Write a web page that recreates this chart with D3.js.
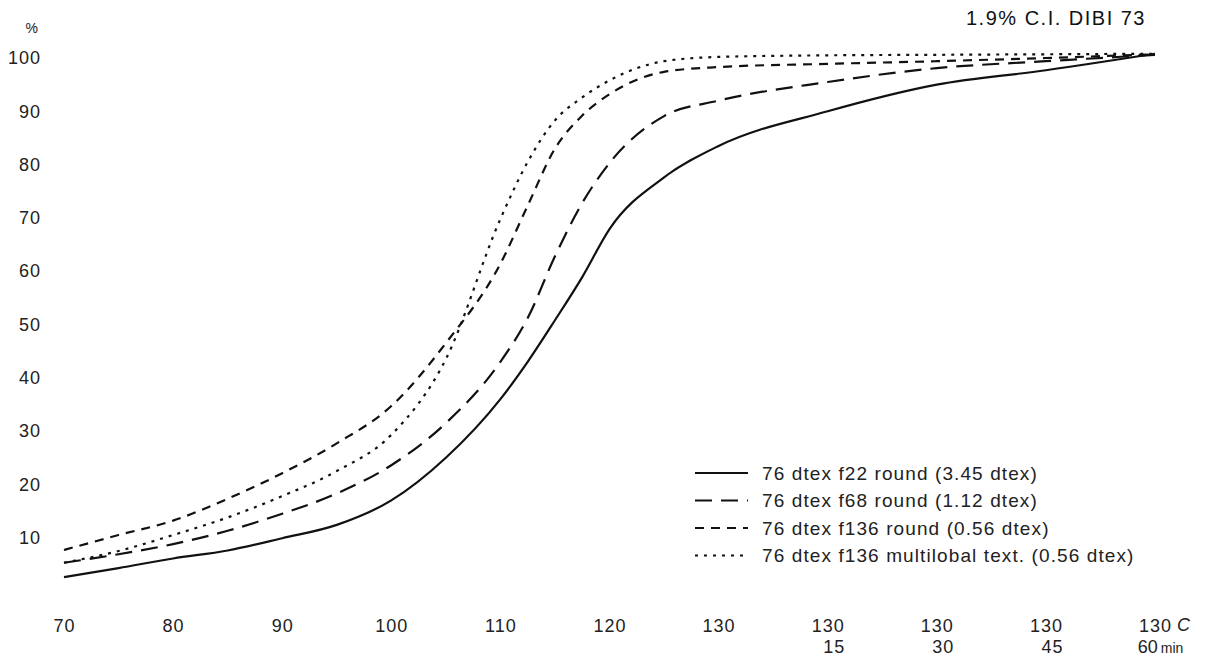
<!DOCTYPE html>
<html>
<head>
<meta charset="utf-8">
<script src="https://cdn.jsdelivr.net/npm/d3@7"></script>
<style>
  body { margin: 0; background: #fff; }
  svg { display: block; font-family: "Liberation Sans", Arial, sans-serif; }
</style>
</head>
<body>
<div id="chart"></div>
<script>
const WIDTH = 1208;
const HEIGHT = 659;

// x = dyeing step: 70..130 C, then 15/30/45/60 min hold at 130 C
const steps = [0, 0.5, 1, 1.5, 2, 2.5, 3, 3.5, 4, 4.25, 4.5, 4.75, 5, 5.5, 6, 7, 8, 9, 10];
const tempLabels = ["70", "80", "90", "100", "110", "120", "130", "130", "130", "130", "130"];
const holdLabels = ["", "", "", "", "", "", "", "15", "30", "45", ""];
const yTicks = [10, 20, 30, 40, 50, 60, 70, 80, 90, 100];

// % dye uptake
const f22Round = [2.6, 4.3, 6.1, 7.6, 9.9, 12.4, 17.0, 25, 36, 43, 50.8, 58.9, 67.9, 77.6, 83.5, 90, 95, 97.7, 100.8];
const f68Round = [5.3, 6.9, 8.8, 11.3, 14.5, 18.3, 23.6, 31.5, 43, 51.2, 62.8, 72.8, 80.3, 89.1, 92, 95.5, 98.1, 99.4, 100.6];
const f136Round = [7.7, 10.5, 13.2, 17.3, 22.1, 27.7, 34.7, 46.5, 61.4, 72.3, 83, 89.2, 93.2, 97.4, 98.3, 98.9, 99.4, 100, 100.7];
const f136Multi = [5.3, 7.5, 10.5, 13.8, 17.8, 22.5, 29.3, 43.5, 69.8, 80.5, 88.3, 92.6, 95.8, 99.4, 100.2, 100.5, 100.6, 100.7, 100.8];

const seriesNames = [
  "76 dtex f22 round (3.45 dtex)",
  "76 dtex f68 round (1.12 dtex)",
  "76 dtex f136 round (0.56 dtex)",
  "76 dtex f136 multilobal text. (0.56 dtex)"
];
const seriesValues = [f22Round, f68Round, f136Round, f136Multi];
const dashes = [null, "17,9", "9,7", "3,6"];

const series = seriesNames.map((name, i) => ({
  name,
  dash: dashes[i],
  points: steps.map((s, j) => ({ x: s, y: seriesValues[i][j] }))
}));

// SCALES
const x = d3.scaleLinear().domain([0, 10]).range([64, 1155]);
const y = d3.scaleLinear().domain([0, 100]).range([591, 58]);

const svg = d3
  .select("#chart")
  .append("svg")
  .attr("width", WIDTH)
  .attr("height", HEIGHT);

svg.append("rect").attr("width", WIDTH).attr("height", HEIGHT).attr("fill", "#fff");

// TITLE
svg
  .append("text")
  .attr("x", 1146)
  .attr("y", 25)
  .attr("text-anchor", "end")
  .attr("font-size", 20)
  .attr("letter-spacing", 1.5)
  .attr("fill", "#111")
  .text("1.9% C.I. DIBI 73");

// Y AXIS
const yAxis = svg
  .append("g")
  .attr("transform", "translate(41,0)")
  .call(d3.axisLeft(y).tickValues(yTicks).tickSize(0).tickPadding(0));
yAxis.select(".domain").remove();
yAxis
  .selectAll("text")
  .attr("font-size", 18)
  .attr("letter-spacing", 1)
  .attr("fill", "#222")
  .attr("font-family", null);

svg
  .append("text")
  .attr("x", 38)
  .attr("y", 33)
  .attr("text-anchor", "end")
  .attr("font-size", 14)
  .attr("fill", "#222")
  .text("%");

// X AXIS
const xAxis = svg
  .append("g")
  .attr("transform", "translate(0,619)")
  .call(
    d3
      .axisBottom(x)
      .tickValues(d3.range(11))
      .tickFormat(i => tempLabels[i])
      .tickSize(0)
      .tickPadding(0)
  );
xAxis.select(".domain").remove();
xAxis
  .selectAll("text")
  .attr("font-size", 18)
  .attr("letter-spacing", 1)
  .attr("fill", "#222")
  .attr("font-family", null);

xAxis.selectAll(".tick").each(function(d) {
  const tick = d3.select(this);
  if (holdLabels[d]) {
    tick
      .append("text")
      .attr("x", 6)
      .attr("y", 34)
      .attr("text-anchor", "middle")
      .attr("font-size", 18)
      .attr("letter-spacing", 1)
      .attr("fill", "#222")
      .text(holdLabels[d]);
  }
  if (d === 10) {
    tick
      .append("text")
      .attr("x", 28)
      .attr("y", 12)
      .attr("font-size", 18)
      .attr("font-style", "italic")
      .attr("fill", "#222")
      .text("C");
    const last = tick
      .append("text")
      .attr("x", 5)
      .attr("y", 34)
      .attr("fill", "#222");
    last.append("tspan").attr("font-size", 18).text("60");
    last.append("tspan").attr("font-size", 14).attr("dx", 3).text("min");
  }
});

// CURVES
const line = d3
  .line()
  .x(d => x(d.x))
  .y(d => y(d.y))
  .curve(d3.curveMonotoneX);

svg
  .selectAll(".curve")
  .data(series)
  .enter()
  .append("path")
  .attr("class", "curve")
  .attr("fill", "none")
  .attr("stroke", "#111")
  .attr("stroke-width", 2.2)
  .attr("stroke-dasharray", d => d.dash)
  .attr("d", d => line(d.points));

// LEGEND
const legend = svg
  .selectAll(".legendRow")
  .data(series)
  .enter()
  .append("g")
  .attr("class", "legendRow")
  .attr("transform", (d, i) => `translate(695, ${473 + i * 27.5})`);

legend
  .append("line")
  .attr("x1", 0)
  .attr("x2", 53)
  .attr("stroke", "#111")
  .attr("stroke-width", 2)
  .attr("stroke-dasharray", d => d.dash);

legend
  .append("text")
  .attr("x", 67)
  .attr("dy", "0.35em")
  .attr("font-size", 19)
  .attr("letter-spacing", 1.1)
  .attr("fill", "#222")
  .text(d => d.name);
</script>
</body>
</html>
